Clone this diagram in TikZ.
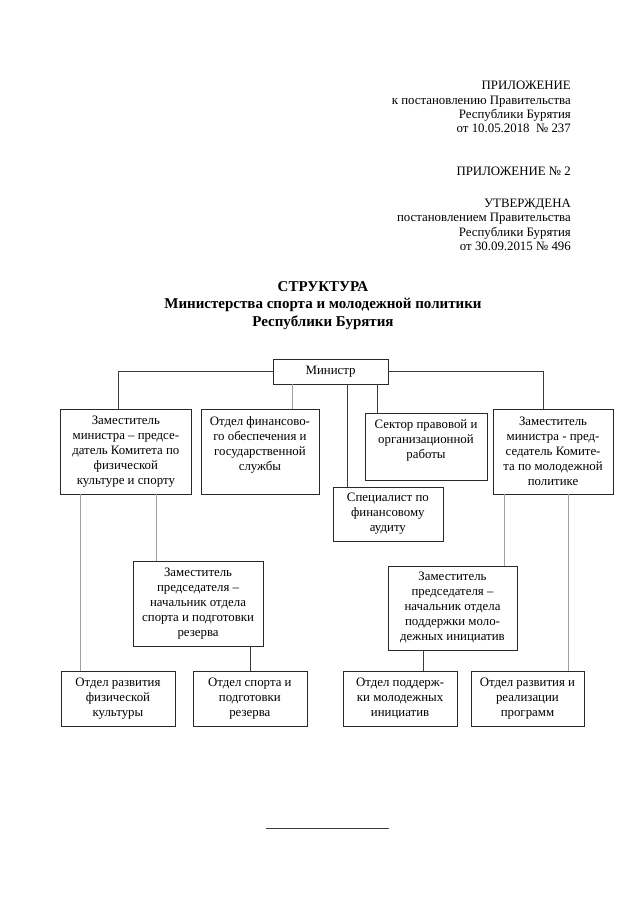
\documentclass[tikz,border=0pt]{standalone}
\usepackage{fontspec}
\setmainfont{Liberation Serif}
\usepackage{xcolor}
\definecolor{msdark}{RGB}{40,40,40}
\definecolor{msline}{RGB}{60,60,60}
\definecolor{msgray}{RGB}{160,160,160}
\tikzstyle{unit} = [rectangle, draw=msdark, line width=0.6pt, align=center, inner sep=2pt, font=\fontsize{12}{14}\selectfont]
\tikzstyle{link} = [line width=0.6pt, color=msline]
\tikzstyle{linkgray} = [line width=0.6pt, color=msgray]
\tikzstyle{heading} = [inner sep=0pt, font=\fontsize{12}{13.3}\selectfont]

\begin{document}
\begin{tikzpicture}[y=-1cm]
\useasboundingbox (0,0) rectangle (21,29.7);
% Header
\node (appx) [heading, anchor=north east, align=right] at (18.74,2.66) {ПРИЛОЖЕНИЕ\\к постановлению Правительства\\Республики Бурятия\\от 10.05.2018\ \ № 237};
\node (appxtwo) [heading, anchor=north east, align=right] at (18.74,5.48) {ПРИЛОЖЕНИЕ № 2};
\node (approved) [heading, anchor=north east, align=right] at (18.74,6.53) {УТВЕРЖДЕНА\\постановлением Правительства\\Республики Бурятия\\от 30.09.2015 № 496};

% Title
\node (title) [inner sep=0pt, anchor=north, align=center, font=\bfseries\fontsize{14}{16.7}\selectfont] at (10.6,9.22) {СТРУКТУРА\\Министерства спорта и молодежной политики\\Республики Бурятия};

% Top level
\node (min) [unit, minimum width=3.77cm, minimum height=0.82cm] at (10.85,12.19) {Министр};

\node (dep1) [unit, minimum width=4.27cm, minimum height=2.79cm] at (4.13,14.82) {Заместитель\\министра – предсе-\\датель Комитета по\\физической\\культуре и спорту};
\node (fin) [unit, minimum width=3.87cm, minimum height=2.79cm, text depth=0.56cm] at (8.53,14.82) {Отдел финансово-\\го обеспечения и\\государственной\\службы};
\node (sector) [unit, minimum width=4.0cm, minimum height=2.2cm, text depth=0.5cm] at (13.98,14.65) {Сектор правовой и\\организационной\\работы};
\node (spec) [unit, minimum width=3.61cm, minimum height=1.77cm] at (12.73,16.87) {Специалист по\\финансовому\\аудиту};
\node (dep2) [unit, minimum width=3.94cm, minimum height=2.79cm] at (18.15,14.82) {Заместитель\\министра - пред-\\седатель Комите-\\та по молодежной\\политике};

% Deputies of the chairmen
\node (vice1) [unit, minimum width=4.27cm, minimum height=2.79cm] at (6.5,19.8) {Заместитель\\председателя –\\начальник отдела\\спорта и подготовки\\резерва};
\node (vice2) [unit, minimum width=4.23cm, minimum height=2.76cm] at (14.85,19.95) {Заместитель\\председателя –\\начальник отдела\\поддержки моло-\\дежных инициатив};

% Departments
\node (deptA) [unit, minimum width=3.74cm, minimum height=1.8cm] at (3.87,22.92) {Отдел развития\\физической\\культуры};
\node (deptB) [unit, minimum width=3.74cm, minimum height=1.8cm] at (8.2,22.92) {Отдел спорта и\\подготовки\\резерва};
\node (deptC) [unit, minimum width=3.74cm, minimum height=1.8cm] at (13.13,22.92) {Отдел поддерж-\\ки молодежных\\инициатив};
\node (deptD) [unit, minimum width=3.71cm, minimum height=1.8cm] at (17.31,22.92) {Отдел развития и\\реализации\\программ};

% Links
\draw[link] (min.west) -| ([xshift=-0.26cm]dep1.north);
\draw[link] (min.east) -| ([xshift=-0.33cm]dep2.north);
\draw[linkgray] ([xshift=1.05cm]fin.north) -- ([xshift=1.05cm]fin.north |- min.south);
\draw[link] ([xshift=-1.345cm]spec.north) -- ([xshift=-1.345cm]spec.north |- min.south);
\draw[link] ([xshift=-1.61cm]sector.north) -- ([xshift=-1.61cm]sector.north |- min.south);

\draw[linkgray] ([xshift=-1.25cm]deptA.north) -- ([xshift=-1.25cm]deptA.north |- dep1.south);
\draw[linkgray] ([xshift=-1.38cm]vice1.north) -- ([xshift=-1.38cm]vice1.north |- dep1.south);
\draw[link] (deptB.north) -- (deptB.north |- vice1.south);

\draw[linkgray] ([xshift=1.69cm]vice2.north) -- ([xshift=1.69cm]vice2.north |- dep2.south);
\draw[linkgray] ([xshift=1.33cm]deptD.north) -- ([xshift=1.33cm]deptD.north |- dep2.south);
\draw[link] ([xshift=0.755cm]deptC.north) -- ([xshift=0.755cm]deptC.north |- vice2.south);

% Footer rule
\draw[link] (8.73,27.17) -- (12.76,27.17);
\end{tikzpicture}
\end{document}
